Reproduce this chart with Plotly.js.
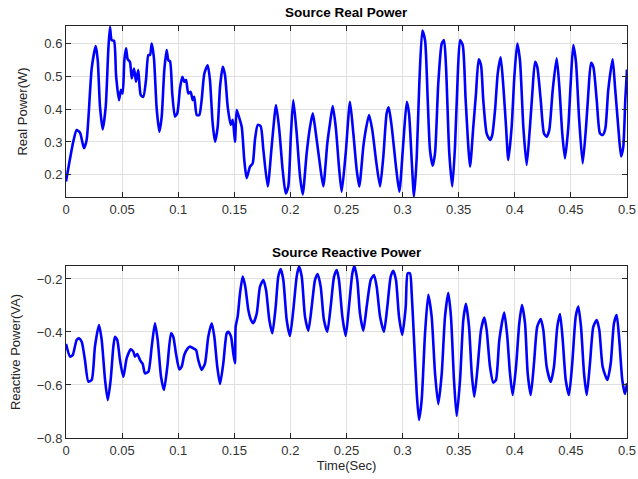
<!DOCTYPE html>
<html>
<head>
<meta charset="utf-8">
<script src="https://cdn.plot.ly/plotly-3.0.1.min.js"></script>
<style>html,body{margin:0;padding:0;background:#fff;}#chart{width:638px;height:479px;}</style>
</head>
<body>
<div id="chart"></div>
<script>
// Source Real Power (W) vs time (s)
var realTime = [0,0.0065,0.0095,0.0125,0.016,0.0184,0.0229,0.0265,0.0283,0.0303,0.0327,0.0354,0.0377,0.0392,0.0407,0.0428,0.0446,0.0472,0.049,0.0505,0.052,0.0535,0.055,0.057,0.0586,0.0606,0.0624,0.0644,0.0666,0.0689,0.0713,0.0734,0.0749,0.0764,0.0784,0.0808,0.0832,0.0853,0.0876,0.0897,0.0912,0.0927,0.0947,0.0971,0.0992,0.1016,0.1037,0.1054,0.107,0.109,0.1111,0.1129,0.1143,0.1165,0.1188,0.1209,0.1233,0.1263,0.1283,0.1307,0.1328,0.1352,0.1373,0.1397,0.1417,0.1441,0.1468,0.1486,0.1506,0.1521,0.1536,0.1566,0.1589,0.161,0.164,0.1664,0.1684,0.1709,0.1735,0.1759,0.1798,0.1833,0.1872,0.1901,0.1931,0.1958,0.1981,0.2005,0.2026,0.2056,0.2086,0.211,0.2145,0.2175,0.2199,0.2219,0.2258,0.2293,0.2329,0.2353,0.2377,0.2404,0.2433,0.2457,0.2493,0.2531,0.2561,0.2591,0.2614,0.265,0.2674,0.2701,0.273,0.2763,0.2799,0.2828,0.2858,0.2876,0.2903,0.2941,0.2971,0.3006,0.3037,0.3057,0.3081,0.3102,0.3126,0.3149,0.3176,0.32,0.3224,0.3244,0.3268,0.3289,0.3318,0.3349,0.3369,0.3387,0.3416,0.3443,0.3467,0.3491,0.3512,0.3536,0.3562,0.3601,0.363,0.3654,0.3678,0.3699,0.3719,0.3749,0.3779,0.3799,0.3824,0.3848,0.3874,0.3898,0.3922,0.3942,0.3972,0.3996,0.4022,0.4046,0.4076,0.4106,0.4135,0.4156,0.418,0.42,0.4231,0.426,0.4284,0.4307,0.4338,0.4373,0.4397,0.4423,0.4447,0.4477,0.4498,0.4521,0.4545,0.4572,0.4605,0.4635,0.4655,0.4679,0.47,0.473,0.4759,0.4783,0.4807,0.4833,0.4872,0.4893,0.4922,0.4947,0.4967,0.4985,0.5];
var realPower = [0.180,0.301,0.336,0.328,0.281,0.306,0.523,0.591,0.548,0.407,0.338,0.407,0.579,0.649,0.609,0.607,0.503,0.427,0.458,0.447,0.548,0.584,0.551,0.543,0.493,0.523,0.483,0.518,0.442,0.437,0.488,0.564,0.564,0.599,0.554,0.402,0.331,0.377,0.518,0.579,0.548,0.545,0.447,0.377,0.387,0.463,0.498,0.483,0.488,0.447,0.452,0.427,0.437,0.382,0.382,0.427,0.508,0.533,0.488,0.357,0.301,0.346,0.468,0.528,0.503,0.407,0.352,0.367,0.301,0.397,0.382,0.346,0.245,0.190,0.225,0.235,0.306,0.352,0.348,0.276,0.165,0.286,0.412,0.336,0.215,0.144,0.165,0.326,0.427,0.326,0.195,0.141,0.266,0.346,0.387,0.346,0.245,0.165,0.296,0.357,0.409,0.346,0.225,0.149,0.266,0.422,0.326,0.215,0.165,0.286,0.341,0.382,0.336,0.245,0.165,0.255,0.387,0.405,0.346,0.225,0.149,0.296,0.422,0.387,0.245,0.134,0.255,0.478,0.638,0.609,0.427,0.276,0.228,0.266,0.478,0.599,0.609,0.528,0.266,0.165,0.286,0.498,0.609,0.594,0.427,0.225,0.346,0.447,0.551,0.533,0.427,0.326,0.306,0.321,0.397,0.508,0.557,0.468,0.346,0.245,0.346,0.498,0.599,0.548,0.346,0.230,0.346,0.447,0.543,0.528,0.427,0.326,0.316,0.336,0.458,0.554,0.468,0.326,0.250,0.346,0.478,0.594,0.543,0.377,0.235,0.346,0.447,0.540,0.528,0.427,0.326,0.321,0.341,0.458,0.551,0.468,0.346,0.256,0.286,0.430,0.520];

// Source Reactive Power (VA) vs time (s)
var reactTime = [0,0.0036,0.006,0.0095,0.0116,0.014,0.0169,0.0199,0.0229,0.0258,0.0294,0.0318,0.0348,0.0372,0.0398,0.0422,0.0437,0.0457,0.0481,0.0511,0.0541,0.0577,0.06,0.0615,0.0635,0.066,0.0684,0.0704,0.0734,0.0764,0.0793,0.0817,0.0847,0.0873,0.0903,0.0936,0.0956,0.098,0.101,0.1031,0.1054,0.1085,0.1105,0.1135,0.1159,0.1179,0.1209,0.1239,0.1268,0.1299,0.1322,0.1348,0.1373,0.1402,0.1432,0.1447,0.1471,0.1491,0.1506,0.1512,0.153,0.1551,0.1575,0.1598,0.1625,0.1649,0.1669,0.17,0.1729,0.1759,0.1783,0.1812,0.1839,0.1869,0.1892,0.1914,0.1937,0.1967,0.1996,0.2026,0.2056,0.2077,0.2101,0.213,0.216,0.219,0.2219,0.2243,0.227,0.2299,0.2329,0.2359,0.2389,0.2413,0.2433,0.2463,0.2493,0.2522,0.2552,0.257,0.2596,0.262,0.265,0.268,0.2716,0.2745,0.2769,0.2799,0.2834,0.2864,0.2894,0.2917,0.2941,0.2968,0.2997,0.3028,0.3045,0.3066,0.3081,0.3102,0.3126,0.3146,0.317,0.32,0.3229,0.3259,0.3289,0.3318,0.3349,0.3378,0.3407,0.3431,0.3458,0.3482,0.3512,0.3541,0.3565,0.3592,0.3616,0.3639,0.3669,0.3699,0.3728,0.3749,0.3779,0.3808,0.3832,0.3862,0.3906,0.3933,0.3957,0.3981,0.4011,0.404,0.4064,0.4091,0.4115,0.4142,0.4171,0.42,0.4231,0.4254,0.4284,0.432,0.4349,0.4379,0.4403,0.4427,0.4454,0.4483,0.4512,0.4543,0.4566,0.459,0.4617,0.4641,0.467,0.47,0.473,0.4753,0.4783,0.4825,0.4855,0.4884,0.4908,0.4931,0.4958,0.4982,0.5];
var reactivePower = [-0.445,-0.493,-0.487,-0.430,-0.424,-0.437,-0.506,-0.587,-0.581,-0.455,-0.374,-0.430,-0.581,-0.657,-0.581,-0.455,-0.418,-0.430,-0.506,-0.569,-0.499,-0.465,-0.474,-0.493,-0.483,-0.506,-0.521,-0.556,-0.550,-0.455,-0.367,-0.430,-0.569,-0.619,-0.531,-0.405,-0.418,-0.481,-0.541,-0.531,-0.487,-0.462,-0.455,-0.462,-0.468,-0.506,-0.543,-0.518,-0.418,-0.367,-0.418,-0.531,-0.596,-0.518,-0.405,-0.399,-0.418,-0.481,-0.518,-0.380,-0.342,-0.254,-0.191,-0.229,-0.317,-0.355,-0.367,-0.330,-0.229,-0.204,-0.242,-0.355,-0.405,-0.304,-0.191,-0.163,-0.204,-0.355,-0.415,-0.317,-0.191,-0.153,-0.191,-0.342,-0.395,-0.304,-0.204,-0.181,-0.229,-0.355,-0.399,-0.304,-0.191,-0.166,-0.204,-0.342,-0.415,-0.304,-0.179,-0.151,-0.204,-0.330,-0.395,-0.304,-0.204,-0.185,-0.229,-0.342,-0.399,-0.304,-0.191,-0.169,-0.204,-0.342,-0.411,-0.304,-0.179,-0.179,-0.254,-0.430,-0.631,-0.732,-0.657,-0.405,-0.260,-0.342,-0.556,-0.672,-0.556,-0.342,-0.252,-0.342,-0.581,-0.717,-0.581,-0.355,-0.294,-0.380,-0.556,-0.644,-0.531,-0.392,-0.346,-0.392,-0.531,-0.591,-0.581,-0.430,-0.327,-0.418,-0.556,-0.638,-0.531,-0.367,-0.298,-0.367,-0.556,-0.638,-0.518,-0.380,-0.351,-0.392,-0.531,-0.588,-0.531,-0.380,-0.332,-0.430,-0.581,-0.638,-0.518,-0.342,-0.304,-0.380,-0.556,-0.638,-0.518,-0.380,-0.355,-0.392,-0.531,-0.581,-0.518,-0.367,-0.336,-0.430,-0.581,-0.634,-0.593];

var xTicks = [0,0.05,0.1,0.15,0.2,0.25,0.3,0.35,0.4,0.45,0.5];
var xTickText = ['0','0.05','0.1','0.15','0.2','0.25','0.3','0.35','0.4','0.45','0.5'];
var realTicks = [0.2,0.3,0.4,0.5,0.6];
var reactTicks = [-0.8,-0.6,-0.4,-0.2];

var axisColor = '#262626';
var gridColor = '#e0e0e0';
var tickFont = {family: 'Liberation Sans, Arial, sans-serif', size: 13, color: '#333333'};

function xaxisDef(anchor) {
  return {
    anchor: anchor, domain: [0, 1], range: [0, 0.5],
    tickmode: 'array', tickvals: xTicks, ticktext: xTickText,
    ticks: 'inside', ticklen: 5, tickcolor: axisColor, tickwidth: 1,
    showline: true, linecolor: axisColor, linewidth: 1, mirror: 'allticks',
    showgrid: true, gridcolor: gridColor, gridwidth: 1,
    zeroline: false, tickfont: tickFont
  };
}
function yaxisDef(anchor, domain, range, ticks, title) {
  return {
    anchor: anchor, domain: domain, range: range,
    tickmode: 'array', tickvals: ticks,
    ticks: 'inside', ticklen: 5, tickcolor: axisColor, tickwidth: 1,
    showline: true, linecolor: axisColor, linewidth: 1, mirror: 'allticks',
    showgrid: true, gridcolor: gridColor, gridwidth: 1,
    zeroline: false, tickfont: tickFont,
    title: {text: title, font: {family: 'Liberation Sans, Arial, sans-serif', size: 13, color: '#262626'}, standoff: 13}
  };
}

var traces = [
  {x: realTime, y: realPower, xaxis: 'x', yaxis: 'y', type: 'scatter', mode: 'lines',
   line: {color: '#0000ff', width: 2.6, shape: 'spline', smoothing: 0.6}, hoverinfo: 'skip'},
  {x: reactTime, y: reactivePower, xaxis: 'x2', yaxis: 'y2', type: 'scatter', mode: 'lines',
   line: {color: '#0000ff', width: 2.6, shape: 'spline', smoothing: 0.6}, hoverinfo: 'skip'}
];

var x2 = xaxisDef('y2');
x2.title = {text: 'Time(Sec)', font: {family: 'Liberation Sans, Arial, sans-serif', size: 13, color: '#262626'}, standoff: 4};

var layout = {
  width: 638, height: 479,
  margin: {l: 66, r: 11, t: 26, b: 41},
  paper_bgcolor: '#ffffff', plot_bgcolor: '#ffffff',
  showlegend: false,
  xaxis: xaxisDef('y'),
  yaxis: yaxisDef('x', [0.585, 1], [0.133, 0.652], realTicks, 'Real Power(W)'),
  xaxis2: x2,
  yaxis2: yaxisDef('x2', [0, 0.4175], [-0.8, -0.151], reactTicks, 'Reactive Power(VA)'),
  annotations: [
    {text: '<b>Source Real Power</b>', xref: 'paper', yref: 'paper', x: 0.5, y: 1, yshift: 4,
     xanchor: 'center', yanchor: 'bottom', showarrow: false,
     font: {family: 'Liberation Sans, Arial, sans-serif', size: 13.5, color: '#000000'}},
    {text: '<b>Source Reactive Power</b>', xref: 'paper', yref: 'paper', x: 0.5, y: 0.4175, yshift: 4,
     xanchor: 'center', yanchor: 'bottom', showarrow: false,
     font: {family: 'Liberation Sans, Arial, sans-serif', size: 13.5, color: '#000000'}}
  ]
};

Plotly.newPlot('chart', traces, layout, {staticPlot: true, displayModeBar: false});
</script>
</body>
</html>
